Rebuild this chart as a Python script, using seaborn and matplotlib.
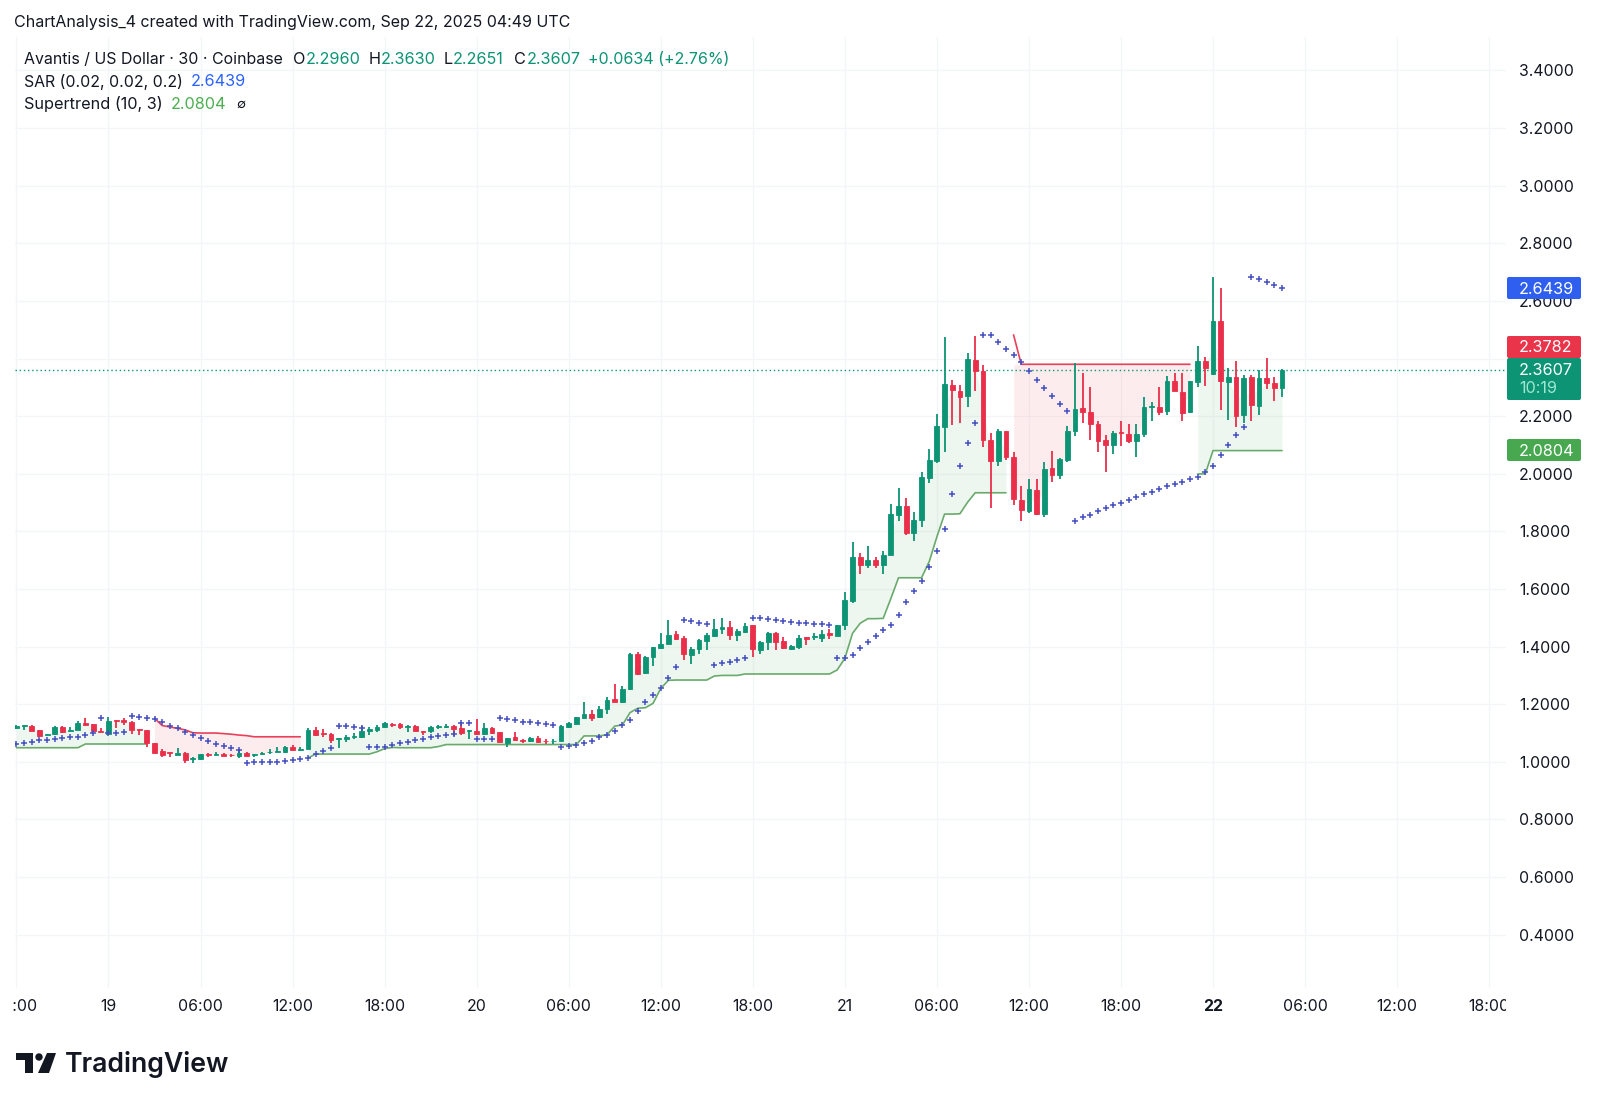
import numpy as np
import pandas as pd
import seaborn as sns
import matplotlib
matplotlib.use('Agg')
import matplotlib.pyplot as plt
from matplotlib.patches import Polygon, Circle, FancyBboxPatch
from matplotlib.transforms import Bbox, IdentityTransform

# 30 min candles, first one is 18 Sep 18:00
first_bar = -12

open_p = [
    1.119,1.126,1.126,1.109,1.092,1.096,1.120,1.107,1.112,1.135,
    1.130,1.108,1.096,1.144,1.144,1.138,1.114,1.109,1.065,1.038,
    1.033,1.025,1.032,1.009,1.009,1.028,1.025,1.028,1.025,1.019,
    1.032,1.025,1.028,1.033,1.035,1.034,1.053,1.041,1.046,1.111,
    1.099,1.096,1.081,1.079,1.086,1.085,1.107,1.111,1.121,1.133,
    1.130,1.122,1.125,1.108,1.107,1.121,1.122,1.123,1.117,1.107,
    1.107,1.096,1.119,1.102,1.067,1.086,1.077,1.071,1.083,1.074,
    1.072,1.072,1.121,1.131,1.151,1.166,1.154,1.182,1.218,1.206,
    1.252,1.374,1.307,1.363,1.395,1.410,1.444,1.430,1.372,1.390,
    1.418,1.438,1.460,1.467,1.439,1.451,1.474,1.388,1.417,1.448,
    1.418,1.393,1.398,1.432,1.432,1.431,1.446,1.437,1.475,1.559,
    1.712,1.683,1.701,1.683,1.718,1.858,1.889,1.793,1.839,1.986,
    2.043,2.163,2.309,2.286,2.269,2.395,2.358,2.117,2.045,2.148,
    2.058,1.909,1.871,1.943,1.860,2.019,1.996,2.048,2.147,2.227,
    2.215,2.174,2.116,2.099,2.145,2.138,2.115,2.138,2.233,2.232,
    2.219,2.323,2.285,2.213,2.319,2.390,2.346,2.531,2.320,2.335,
    2.203,2.335,2.236,2.333,2.315,2.2960]
high_p = [
    1.127,1.129,1.128,1.111,1.098,1.124,1.124,1.120,1.141,1.151,
    1.131,1.116,1.155,1.145,1.153,1.141,1.114,1.111,1.067,1.044,
    1.034,1.048,1.034,1.017,1.028,1.030,1.033,1.030,1.028,1.046,
    1.034,1.027,1.034,1.044,1.053,1.055,1.057,1.053,1.116,1.122,
    1.114,1.099,1.083,1.093,1.099,1.124,1.120,1.128,1.138,1.135,
    1.134,1.127,1.127,1.108,1.124,1.129,1.131,1.128,1.139,1.110,
    1.150,1.136,1.121,1.104,1.083,1.104,1.078,1.085,1.090,1.080,
    1.080,1.127,1.140,1.157,1.207,1.180,1.194,1.224,1.269,1.263,
    1.379,1.381,1.366,1.400,1.446,1.492,1.455,1.437,1.397,1.428,
    1.448,1.495,1.499,1.490,1.462,1.481,1.476,1.420,1.451,1.451,
    1.432,1.407,1.441,1.434,1.446,1.458,1.460,1.476,1.588,1.763,
    1.724,1.749,1.710,1.733,1.895,1.949,1.917,1.867,2.007,2.085,
    2.207,2.476,2.325,2.309,2.418,2.479,2.377,2.142,2.157,2.149,
    2.077,1.957,1.981,1.981,2.040,2.080,2.053,2.166,2.385,2.351,
    2.302,2.182,2.136,2.150,2.182,2.173,2.173,2.268,2.250,2.302,
    2.339,2.351,2.349,2.323,2.443,2.404,2.684,2.644,2.366,2.390,
    2.343,2.343,2.360,2.402,2.337,2.3630]
low_p = [
    1.115,1.111,1.106,1.085,1.092,1.094,1.099,1.106,1.111,1.123,
    1.104,1.104,1.092,1.116,1.127,1.097,1.093,1.050,1.030,1.016,
    1.018,1.024,0.997,0.997,1.006,1.018,1.024,1.020,1.018,1.013,
    1.020,1.016,1.024,1.028,1.034,1.032,1.038,1.039,1.044,1.091,
    1.085,1.067,1.049,1.070,1.078,1.083,1.094,1.104,1.116,1.120,
    1.113,1.104,1.106,1.093,1.099,1.115,1.117,1.091,1.093,1.080,
    1.093,1.094,1.095,1.068,1.053,1.073,1.066,1.069,1.066,1.062,
    1.062,1.071,1.116,1.129,1.150,1.143,1.153,1.167,1.206,1.203,
    1.250,1.301,1.306,1.333,1.393,1.408,1.423,1.353,1.338,1.373,
    1.388,1.434,1.444,1.423,1.418,1.448,1.363,1.374,1.388,1.388,
    1.393,1.388,1.390,1.404,1.423,1.417,1.425,1.437,1.458,1.552,
    1.652,1.672,1.672,1.652,1.717,1.835,1.786,1.768,1.816,1.969,
    2.036,2.077,2.170,2.175,2.230,2.286,2.092,1.881,2.027,2.048,
    1.891,1.836,1.863,1.857,1.851,1.970,1.981,2.040,2.132,2.177,
    2.117,2.077,2.005,2.069,2.096,2.106,2.057,2.129,2.182,2.203,
    2.203,2.286,2.182,2.211,2.302,2.305,2.343,2.221,2.187,2.163,
    2.177,2.182,2.205,2.293,2.251,2.2651]
close_p = [
    1.125,1.128,1.108,1.091,1.098,1.120,1.105,1.111,1.136,1.127,
    1.108,1.105,1.142,1.142,1.138,1.111,1.111,1.064,1.032,1.024,
    1.030,1.032,1.006,1.012,1.026,1.025,1.028,1.022,1.023,1.031,
    1.022,1.027,1.031,1.035,1.038,1.053,1.040,1.045,1.111,1.094,
    1.096,1.076,1.083,1.086,1.090,1.107,1.113,1.120,1.134,1.129,
    1.122,1.125,1.108,1.105,1.120,1.123,1.124,1.115,1.099,1.109,
    1.096,1.119,1.100,1.069,1.082,1.076,1.071,1.083,1.069,1.072,
    1.074,1.124,1.136,1.154,1.166,1.152,1.183,1.216,1.209,1.254,
    1.374,1.306,1.365,1.397,1.410,1.441,1.426,1.373,1.393,1.424,
    1.441,1.462,1.469,1.439,1.455,1.471,1.390,1.417,1.448,1.416,
    1.395,1.402,1.430,1.428,1.437,1.443,1.441,1.474,1.562,1.712,
    1.683,1.701,1.683,1.718,1.860,1.889,1.793,1.839,1.987,2.046,
    2.165,2.311,2.289,2.265,2.397,2.358,2.117,2.045,2.148,2.057,
    1.912,1.874,1.946,1.859,2.018,1.997,2.050,2.147,2.226,2.214,
    2.174,2.114,2.100,2.141,2.141,2.115,2.139,2.231,2.236,2.215,
    2.323,2.288,2.212,2.321,2.390,2.366,2.531,2.323,2.335,2.200,
    2.332,2.239,2.332,2.315,2.298,2.3607]
sar = [
    1.062,1.064,1.070,1.075,1.077,1.081,1.083,1.085,1.087,1.093,
    1.099,1.153,1.099,1.100,1.103,1.158,1.156,1.153,1.149,1.140,
    1.124,1.116,1.105,1.093,1.082,1.071,1.062,1.055,1.048,1.040,
    0.997,0.999,0.999,0.999,1.001,1.004,1.008,1.011,1.013,1.027,
    1.039,1.049,1.123,1.123,1.121,1.118,1.050,1.050,1.053,1.057,
    1.064,1.069,1.076,1.080,1.086,1.090,1.092,1.097,1.136,1.136,
    1.080,1.080,1.080,1.151,1.150,1.146,1.139,1.138,1.134,1.131,
    1.127,1.051,1.055,1.057,1.064,1.072,1.086,1.094,1.108,1.127,
    1.144,1.176,1.206,1.231,1.258,1.290,1.329,1.492,1.489,1.483,
    1.477,1.336,1.342,1.348,1.353,1.360,1.500,1.498,1.495,1.493,
    1.490,1.486,1.483,1.481,1.480,1.478,1.475,1.360,1.362,1.372,
    1.395,1.416,1.437,1.458,1.475,1.510,1.554,1.593,1.629,1.675,
    1.732,1.808,1.928,2.028,2.107,2.175,2.480,2.480,2.457,2.434,
    2.411,2.389,2.358,2.326,2.296,2.269,2.242,2.219,1.837,1.849,
    1.858,1.869,1.880,1.890,1.900,1.909,1.918,1.929,1.938,1.947,
    1.956,1.966,1.972,1.982,1.989,2.007,2.027,2.065,2.100,2.136,
    2.161,2.684,2.675,2.666,2.656,2.6439]

# supertrend pieces, each with its first bar
st_up_a_start = -12
st_up_a = [1.049,1.049,1.049,1.049,1.049,1.049,1.049,1.049,1.049,
           1.062,1.062,1.062,1.062,1.062,1.062,1.062,1.062,1.062]
st_down_a_start = 6
st_down_a = [1.151,1.126,1.121,1.116,1.111,1.101,1.100,1.100,1.100,1.098,
             1.096,1.093,1.091,1.087,1.087,1.087,1.087,1.087,1.087,1.087]
st_up_b_start = 26
st_up_b = [1.013,1.027,1.027,1.027,1.027,1.027,1.027,1.027,1.027,1.035,
           1.046,1.050,1.049,1.049,1.049,1.049,1.049,1.053,1.060,1.060,
           1.060,1.060,1.060,1.060,1.060,1.060,1.060,1.060,1.060,1.060,
           1.060,1.060,1.060,1.060,1.060,1.060,1.090,1.090,1.090,1.094,
           1.124,1.128,1.171,1.186,1.188,1.203,1.255,1.283,1.284,1.284,
           1.284,1.284,1.284,1.298,1.300,1.300,1.300,1.305,1.305,1.305,
           1.305,1.305,1.305,1.305,1.305,1.305,1.305,1.305,1.305,1.319,
           1.359,1.446,1.481,1.497,1.497,1.498,1.567,1.639,1.639,1.639,
           1.639,1.695,1.781,1.860,1.860,1.861,1.901,1.934,1.934,1.934,
           1.934,1.934]
st_down_b_start = 118
st_down_b = [2.482,2.380,2.380,2.380,2.380,2.380,2.380,2.380,2.380,2.380,
             2.380,2.380,2.380,2.380,2.380,2.380,2.380,2.380,2.380,2.380,
             2.380,2.380,2.380,2.380]
st_up_c_start = 142
st_up_c = [1.999,2.000,2.0804,2.0804,2.0804,2.0804,2.0804,2.0804,2.0804,2.0804,
           2.0804,2.0804]

price_ticks = [3.4, 3.2, 3.0, 2.8, 2.6, 2.4, 2.2, 2.0, 1.8, 1.6, 1.4, 1.2, 1.0, 0.8, 0.6, 0.4]
time_labels = ['18:00', '19', '06:00', '12:00', '18:00', '20', '06:00', '12:00', '18:00',
               '21', '06:00', '12:00', '18:00', '22', '06:00', '12:00', '18:00']

GREEN = '#0c9474'
RED = '#e92f4a'
UP = '#6aaa6d'
DOWN = '#e8405a'
BLUE = '#4450c0'
INK = '#131722'

sns.set_theme(style='white')
plt.rcParams['font.family'] = ['Inter', 'DejaVu Sans']

W, H = 1600, 1103
fig = plt.figure(figsize=(W / 100, H / 100), dpi=100)
left, right, top, bottom = 15, 1506, 37, 988
ax = fig.add_axes([left / W, 1 - bottom / H, (right - left) / W, (bottom - top) / H])

df = pd.DataFrame({'open': open_p, 'high': high_p, 'low': low_p, 'close': close_p, 'sar': sar})
df['bar'] = np.arange(len(df)) + first_bar
df['mid'] = (df['open'] + df['close']) / 2
df['up'] = df['close'] >= df['open']

# fill between the trend line and candle middle
for start, vals, col in [(st_up_a_start, st_up_a, '#4caf50'), (st_down_a_start, st_down_a, '#f23645'),
                         (st_up_b_start, st_up_b, '#4caf50'), (st_down_b_start, st_down_b, '#f23645'),
                         (st_up_c_start, st_up_c, '#4caf50')]:
    xs = np.arange(len(vals)) + start
    mids = df.set_index('bar').loc[xs, 'mid'].values
    fill_top = list(vals)
    if start == st_down_b_start:
        # no fill under the first steep bit of the line
        fill_top[0] = fill_top[1]
    ax.fill_between(xs, fill_top, mids, color=col, alpha=0.09, lw=0, zorder=1)
    sns.lineplot(x=xs, y=vals, color=DOWN if col == '#f23645' else UP, lw=1.2,
                 ax=ax, errorbar=None, legend=False, zorder=2)

# candles
colors = np.where(df['up'], GREEN, RED)
ax.vlines(df['bar'], df['low'], df['high'], colors=colors, lw=1.3, zorder=3)
ax.bar(df['bar'], (df['close'] - df['open']).abs(), bottom=df[['open', 'close']].min(axis=1),
       width=0.62, color=colors, edgecolor=colors, linewidth=0.6, zorder=4)

sns.scatterplot(data=df, x='bar', y='sar', marker='+', color=BLUE, s=13, linewidth=1.1,
                ax=ax, legend=False, zorder=5)

ax.axhline(close_p[-1], color=GREEN, lw=1, ls=(0, (1, 2)), zorder=2)

ax.set_xlim(-12.19, 182.2)
ax.set_ylim(0.215, 3.516)
ax.set_yticks(price_ticks)
# 2.4000 sits fully behind the price tags
ax.set_yticklabels(['' if v == 2.4 else f'{v:.4f}' for v in price_ticks], fontsize=11.4, color=INK)
ax.yaxis.tick_right()
ax.set_xticks(np.arange(len(time_labels)) * 12 + first_bar)
ax.set_xticklabels(time_labels, fontsize=11.4, color=INK)
ax.tick_params(axis='both', length=0)
ax.tick_params(axis='y', pad=9.4)
ax.tick_params(axis='x', pad=8)
ax.set_xlabel('')
ax.set_ylabel('')
ax.grid(True, color='#f4f5f8', lw=1)
ax.set_axisbelow(True)
for s in ax.spines.values():
    s.set_visible(False)

# time labels get cut at the pane edges
clip = Bbox([[left - 2, 0], [right, H]])
for lab in ax.get_xticklabels():
    lab.set_clip_box(clip)
    lab.set_clip_on(True)
    if lab.get_text() == '22':
        lab.set_fontweight('bold')


def txt(x, y, s, color=INK, size=11.7, **kw):
    fig.text(x / W, 1 - y / H, s, color=color, fontsize=size, va='center', ha=kw.pop('ha', 'left'), **kw)


txt(14, 22, 'ChartAnalysis_4 created with TradingView.com, Sep 22, 2025 04:49 UTC', size=11.5)
txt(24.5, 59.5, 'Avantis / US Dollar · 30 · Coinbase', size=11.45)
for x, s, col in [(293, 'O', INK), (306, '2.2960', GREEN), (369, 'H', INK), (381, '2.3630', GREEN),
                  (444, 'L', INK), (453, '2.2651', GREEN), (514, 'C', INK), (527, '2.3607', GREEN)]:
    txt(x, 59.5, s, color=col)
txt(588, 59.5, '+0.0634 (+2.76%)', color=GREEN, size=11.55)
txt(24.5, 82, 'SAR (0.02, 0.02, 0.2)', size=11.4)
txt(191, 82, '2.6439', color='#2962ff')
txt(24.5, 104.5, 'Supertrend (10, 3)')
txt(171, 104.5, '2.0804', color='#4caf50')
txt(236, 104.5, '∅', size=9.5)


def price_tag(top_y, bot_y, color, lines):
    y0 = H - bot_y
    fig.add_artist(FancyBboxPatch((1507, y0), 74, bot_y - top_y, boxstyle='round,pad=0,rounding_size=2',
                                  fc=color, ec='none', transform=IdentityTransform(), zorder=6))
    for yy, s, c in lines:
        txt(1519, yy, s, color=c, zorder=7)


price_tag(277, 299, '#2f5fee', [(289, '2.6439', 'white')])
price_tag(336, 358, '#e9344a', [(348, '2.3782', 'white')])
price_tag(358, 400, '#0c9474', [(370.5, '2.3607', 'white'), (389, '10:19', '#9fe8d2')])
price_tag(439, 461, '#47a84f', [(451, '2.0804', 'white')])

# TradingView logo
logo = IdentityTransform()
for pts in [[(16, 1053), (33, 1053), (33, 1073), (25, 1073), (25, 1060), (16, 1060)],
            [(47, 1053), (56, 1053), (49, 1073), (38, 1073)]]:
    fig.add_artist(Polygon([(x, H - y) for x, y in pts], closed=True, fc=INK, ec='none', transform=logo))
fig.add_artist(Circle((39, H - 1057), 3.7, fc=INK, ec='none', transform=logo))
txt(65, 1065, 'TradingView', size=19.2, fontweight='semibold')

fig.savefig('out.png', dpi=100)
